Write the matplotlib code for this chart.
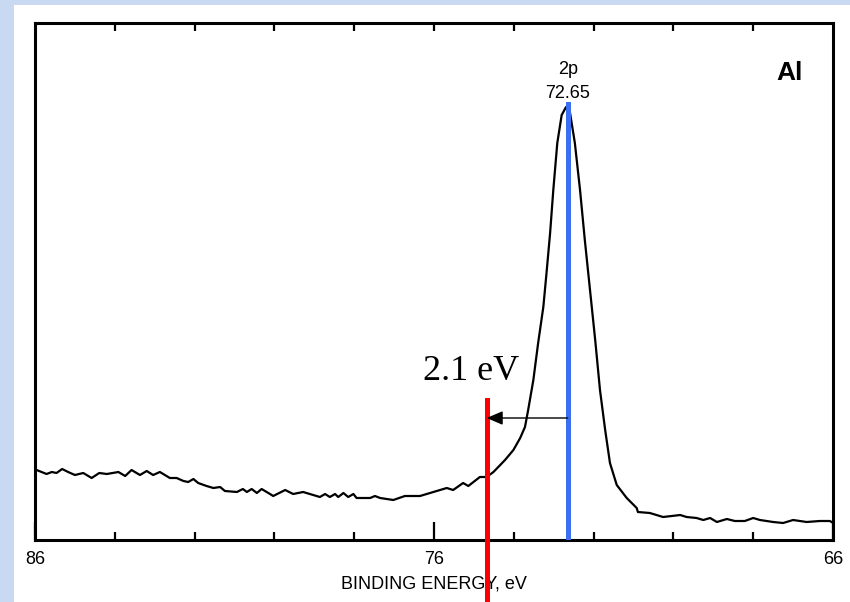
import numpy as np
import matplotlib
matplotlib.use("Agg")
import matplotlib.pyplot as plt
from matplotlib.patches import Rectangle

# binding energy (eV) and intensity (arb. units)
energy = [85.96, 85.71, 85.58, 85.46, 85.32, 85.17, 85.00, 84.79, 84.58, 84.39,
          84.20, 83.91, 83.74, 83.58, 83.37, 83.20, 83.04, 82.87, 82.62, 82.45,
          82.28, 82.16, 82.03, 81.91, 81.70, 81.53, 81.36, 81.24, 80.94, 80.79,
          80.69, 80.57, 80.44, 80.32, 80.11, 80.03, 79.73, 79.53, 79.28, 78.86,
          78.73, 78.61, 78.48, 78.40, 78.27, 78.15, 78.02, 77.94, 77.60, 77.48,
          77.35, 77.02, 76.73, 76.35, 76.10, 75.68, 75.52, 75.27, 75.14, 74.85,
          74.68, 74.51, 74.22, 74.01, 73.84, 73.72, 73.64, 73.51, 73.39, 73.26,
          73.18, 73.09, 73.01, 72.91, 72.80, 72.69, 72.59, 72.47, 72.34, 72.22,
          72.09, 71.96, 71.84, 71.71, 71.59, 71.42, 71.17, 70.92, 70.89, 70.59,
          70.26, 70.04, 69.83, 69.67, 69.42, 69.25, 69.08, 68.91, 68.66, 68.46,
          68.21, 68.00, 67.83, 67.50, 67.25, 67.00, 66.66, 66.33, 66.08, 65.99]
intensity = [70, 66, 68, 67, 71, 68, 65, 67, 62, 67,
             66, 68, 64, 70, 65, 69, 65, 68, 62, 62,
             59, 58, 61, 57, 54, 52, 53, 49, 48, 51,
             48, 51, 47, 51, 46, 44, 50, 46, 48, 43,
             46, 43, 46, 43, 47, 43, 46, 42, 42, 44,
             42, 40, 44, 44, 47, 52, 50, 57, 54, 63,
             63, 68, 80, 90, 102, 113, 130, 160, 197, 233,
             267, 307, 350, 397, 425, 433, 427, 397, 350, 300,
             250, 200, 150, 110, 77, 55, 42, 32, 28, 27,
             23, 24, 25, 23, 22, 20, 22, 18, 21, 19,
             19, 22, 20, 18, 17, 20, 18, 19, 19, 17]

peak_pos = 72.65
peak_top = 436
shifted_pos = 74.68
arrow_level = 122
red_top = 140

fig = plt.figure(figsize=(8.5, 6.02), dpi=100)
fig.patch.set_facecolor("#c9d9f2")
fig.add_artist(Rectangle((14 / 850, 0), 1, (602 - 5) / 602,
                         transform=fig.transFigure, facecolor="white",
                         edgecolor="none", zorder=0))

ax = fig.add_axes([35 / 850, 62 / 602, 798 / 850, 517 / 602])
ax.set_facecolor("white")

ax.plot(energy, intensity, color="black", lw=1.6)
ax.set_xlim(86, 66)
ax.set_ylim(0, 517)

# peak marker and shifted position
ax.plot([peak_pos, peak_pos], [0, peak_top], color="#3c6ef0", lw=3.6, zorder=3)
ax.plot([shifted_pos, shifted_pos], [-62, red_top], color="#ff0000", lw=3.6,
        zorder=3, clip_on=False)
ax.annotate("", xy=(shifted_pos, arrow_level), xytext=(peak_pos, arrow_level),
            arrowprops=dict(arrowstyle="-|>,head_length=0.7,head_width=0.3",
                            mutation_scale=14, lw=1.0, color="black",
                            shrinkA=0, shrinkB=0), zorder=4)
ax.text(75.07, 168, "2.1 eV", family="Liberation Serif", fontsize=26,
        ha="center", va="center")

ax.text(peak_pos, 470, "2p", family="Liberation Sans", fontsize=13,
        ha="center", va="center")
ax.text(peak_pos, 447, "72.65", family="Liberation Sans", fontsize=13,
        ha="center", va="center")
ax.text(67.1, 467, "Al", family="Liberation Sans", fontsize=19,
        fontweight="bold", ha="center", va="center")

# axes styling
for s in ax.spines.values():
    s.set_linewidth(2.2)
ax.set_yticks([])
ax.set_xticks([86, 76, 66])
ax.set_xticklabels(["86", "76", "66"], family="Liberation Sans", fontsize=13)
ax.set_xticks(np.arange(84, 66, -2), minor=True)
ax.tick_params(axis="x", which="major", direction="in", length=13, width=1.6, pad=8)
ax.tick_params(axis="x", which="minor", direction="in", length=6, width=1.6)

top = ax.secondary_xaxis("top")
top.set_xticks(np.arange(84, 66, -2))
top.set_xticklabels([])
top.tick_params(direction="in", length=6, width=1.6)
top.spines["top"].set_visible(False)

ax.set_xlabel("BINDING ENERGY, eV", family="Liberation Sans", fontsize=13,
              labelpad=5)

fig.savefig("out.png", dpi=100, facecolor=fig.get_facecolor())
